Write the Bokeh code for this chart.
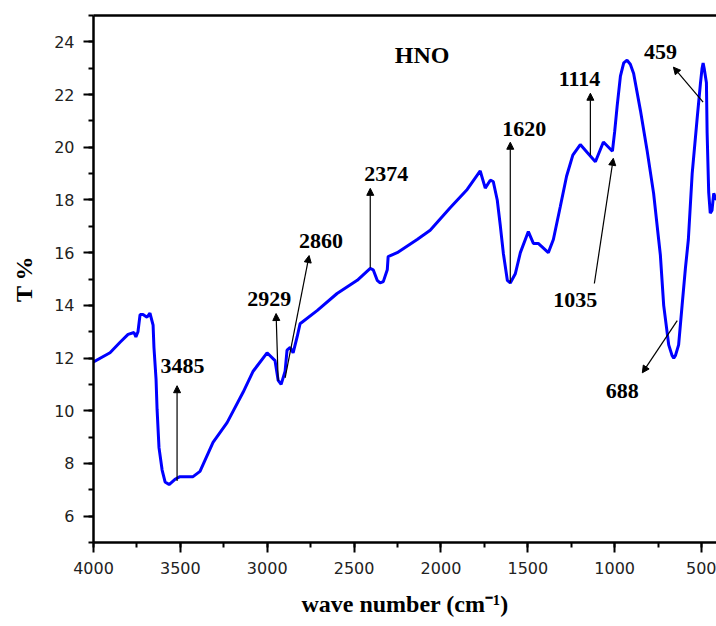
from bokeh.plotting import figure
from bokeh.models import Range1d, SingleIntervalTicker, FixedTicker, LinearAxis, Arrow, NormalHead, ColumnDataSource
from bokeh.core.properties import value
from bokeh.embed import file_html
from bokeh.resources import INLINE

# ---- spectrum data ----
wavenumber = [4000, 3905, 3847, 3801, 3767, 3756, 3744, 3732, 3715, 3692, 3675, 3657, 3652,
              3640, 3634, 3623, 3605, 3588, 3565, 3531, 3502, 3427, 3387, 3312, 3231, 3139,
              3081, 3001, 2955, 2937, 2920, 2897, 2886, 2868, 2851, 2828, 2811, 2713, 2598,
              2482, 2407, 2390, 2367, 2350, 2332, 2309, 2304, 2252, 2137, 2062, 1947, 1849,
              1774, 1745, 1716, 1699, 1676, 1658, 1641, 1618, 1601, 1572, 1543, 1497, 1468,
              1440, 1382, 1353, 1313, 1277, 1241, 1198, 1158, 1111, 1065, 1013, 1000, 986,
              967, 948, 929, 910, 891, 852, 814, 776, 747, 737, 718, 689, 670, 660, 650, 632,
              612, 593, 576, 554, 526, 506, 497, 491, 485, 472, 468, 459, 450, 440, 430, 414]
transmittance = [11.85, 12.2, 12.6, 12.9, 12.97, 12.8, 13.0, 13.65, 13.65, 13.55, 13.7, 13.25, 12.4,
                 11.2, 10.05, 8.6, 7.75, 7.3, 7.2, 7.4, 7.5, 7.5, 7.7, 8.8, 9.55, 10.7,
                 11.5, 12.2, 11.9, 11.15, 11.0, 11.5, 12.3, 12.4, 12.2, 12.8, 13.3, 13.8, 14.45,
                 14.95, 15.4, 15.35, 14.95, 14.85, 14.9, 15.35, 15.85, 16.0, 16.5, 16.85, 17.7, 18.4,
                 19.1, 18.45, 18.75, 18.7, 18.0, 17.0, 15.98, 14.95, 14.85, 15.2, 16.0, 16.8, 16.35,
                 16.35, 16.0, 16.5, 17.75, 18.9, 19.7, 20.1, 19.8, 19.45, 20.2, 19.85, 20.6, 21.55,
                 22.7, 23.2, 23.3, 23.15, 22.8, 21.4, 19.9, 18.25, 16.5, 15.9, 14.0, 12.5, 12.1, 12.0, 12.1, 12.5,
                 14.0, 15.4, 16.5, 19.0, 21.05, 22.45, 23.0, 23.2, 23.0, 22.45, 20.55, 18.3, 17.5, 17.6, 18.25, 18.0]

# ---- peak annotations ----
peak_labels = ["3485", "2929", "2860", "2374", "1620", "1114", "1035", "688", "459"]
label_x = [3487, 2989, 2690, 2315, 1520, 1203, 1227, 956, 737]
label_y = [11.71, 14.25, 16.46, 19.0, 20.68, 22.58, 14.22, 10.76, 23.61]
arrow_x0 = [3519, 2937, 2897, 2407, 1601, 1140, 1117, 640, 491]
arrow_y0 = [7.33, 11.14, 11.25, 15.43, 14.86, 19.69, 14.83, 13.42, 21.71]
arrow_x1 = [3519, 2949, 2759, 2407, 1601, 1140, 1008, 841, 662]
arrow_y1 = [10.95, 13.69, 15.89, 18.44, 20.19, 22.05, 19.58, 11.44, 23.04]

title_text = "HNO"

p = figure(width=716, height=624, output_backend="svg", toolbar_location=None,
           x_range=Range1d(4000, 414), y_range=Range1d(5, 25),
           min_border_left=93, min_border_right=0, min_border_top=15, min_border_bottom=82,
           x_axis_label="wave number (cm⁻¹)", y_axis_label="T %")
p.grid.visible = False
p.outline_line_color = None
p.background_fill_color = "white"
p.border_fill_color = "white"

p.line(wavenumber, transmittance, line_color="#0000FF", line_width=3)

# axes styling
p.xaxis.ticker = SingleIntervalTicker(interval=500, num_minor_ticks=2)
p.yaxis.ticker = SingleIntervalTicker(interval=2, num_minor_ticks=2)
for ax in (p.xaxis[0], p.yaxis[0]):
    ax.axis_line_width = 2.5
    ax.axis_line_color = "black"
    ax.major_tick_out = 10
    ax.major_tick_in = 0
    ax.minor_tick_out = 5
    ax.minor_tick_in = 0
    ax.major_tick_line_width = 2
    ax.minor_tick_line_width = 2
    ax.major_tick_line_color = "black"
    ax.minor_tick_line_color = "black"
    ax.major_label_text_font = "DejaVu Sans"
    ax.major_label_text_font_size = "16px"
    ax.major_label_text_color = "#222222"
    ax.major_label_standoff = 9
    ax.axis_label_text_font = "Liberation Serif"
    ax.axis_label_text_font_style = "bold"
    ax.axis_label_text_font_size = "24px"
    ax.axis_label_text_color = "black"
p.xaxis.axis_label_standoff = 14
p.yaxis.axis_label_standoff = 14

top = LinearAxis(ticker=FixedTicker(ticks=[]), axis_line_width=2.5, axis_line_color="black",
                 major_tick_line_color=None, minor_tick_line_color=None,
                 major_label_text_font_size="0px", major_label_standoff=0)
p.add_layout(top, "above")

# arrows
asrc = ColumnDataSource(dict(x0=arrow_x0, y0=arrow_y0, x1=arrow_x1, y1=arrow_y1))
p.add_layout(Arrow(source=asrc, x_start="x0", y_start="y0", x_end="x1", y_end="y1",
                   line_color="black", line_width=1.2,
                   end=NormalHead(size=7, fill_color="black", line_color="black")))

p.text(label_x, label_y, text=peak_labels, text_font=value("Liberation Serif"),
       text_font_style="bold", text_font_size="22px", text_align="center",
       text_baseline="middle", text_color="black")
p.text([2108], [23.49], text=[title_text], text_font=value("Liberation Serif"),
       text_font_style="bold", text_font_size="24px", text_align="center",
       text_baseline="middle", text_color="black")

open("out.html", "w").write(file_html(p, INLINE))
